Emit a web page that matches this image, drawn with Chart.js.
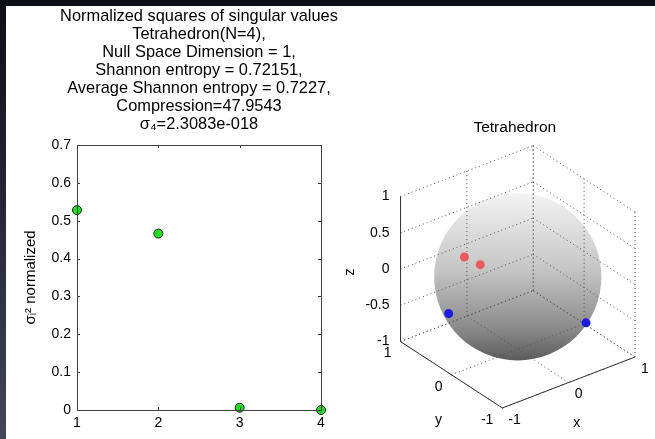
<!DOCTYPE html>
<html>
<head>
<meta charset="utf-8">
<script src="https://cdn.jsdelivr.net/npm/chart.js@4"></script>
<style>
  html, body { margin: 0; padding: 0; }
  body {
    width: 655px; height: 439px; overflow: hidden; position: relative;
    background: linear-gradient(to bottom, #0e0e18 0%, #2a2a3c 55%, #45455c 100%);
  }
  #panel { position: absolute; left: 6px; top: 6px; width: 649px; height: 433px; background: #fff; }
  #c1 { position: absolute; left: 0; top: 0; }
  #c2 { position: absolute; left: 324px; top: 94px; }
</style>
</head>
<body>
<div id="panel">
  <canvas id="c1" width="386" height="433"></canvas>
  <canvas id="c2" width="325" height="339"></canvas>
</div>
<script>
// linkes Diagramm: normierte Quadrate der Singulärwerte
var idx = [1, 2, 3, 4];
var sigma2 = [0.528, 0.466, 0.006, 0];
var yTicks = [0, 0.1, 0.2, 0.3, 0.4, 0.5, 0.6, 0.7];
var titleLines = [
  "Normalized squares of singular values",
  "Tetrahedron(N=4),",
  "Null Space Dimension = 1,",
  "Shannon entropy = 0.72151,",
  "Average Shannon entropy = 0.7227,",
  "Compression=47.9543",
  "σ₄=2.3083e-018"
];

// rechtes Diagramm: Punkte auf der Einheitskugel (x, y, z)
var redPts = [[-0.82, -0.02, 0.57], [-0.78, -0.28, 0.57]];
var bluePts = [[-0.98, 0.08, -0.20], [0.40, -0.82, -0.40]];
var xTicks3 = [-1, 0, 1];
var yTicks3 = [-1, 0, 1];
var zTicks3 = [-1, -0.5, 0, 0.5, 1];
var az = -37.5, el = 30;

var FONT = "'Liberation Sans', Arial, sans-serif";

var boxPlugin = {
  id: "box",
  afterDraw: function(chart) {
    var a = chart.chartArea, ctx = chart.ctx;
    ctx.save();
    ctx.strokeStyle = "#404040";
    ctx.lineWidth = 1;
    ctx.strokeRect(Math.round(a.left) + 0.5, Math.round(a.top) + 0.5, Math.round(a.right - a.left), Math.round(a.bottom - a.top));
    // kleine Ticks nach innen
    ctx.beginPath();
    yTicks.forEach(function(v) {
      var py = Math.round(chart.scales.y.getPixelForValue(v)) + 0.5;
      ctx.moveTo(a.left, py); ctx.lineTo(a.left + 3, py);
      ctx.moveTo(a.right, py); ctx.lineTo(a.right - 3, py);
    });
    idx.forEach(function(v) {
      var px = Math.round(chart.scales.x.getPixelForValue(v)) + 0.5;
      ctx.moveTo(px, a.bottom); ctx.lineTo(px, a.bottom - 3);
      ctx.moveTo(px, a.top); ctx.lineTo(px, a.top + 3);
    });
    ctx.stroke();
    ctx.restore();
  }
};

var chart1 = new Chart("c1", {
  type: "scatter",
  data: {
    datasets: [{
      data: idx.map(function(v, i) { return {x: v, y: sigma2[i]}; }),
      backgroundColor: "#1ee01e",
      borderColor: "#1a1a1a",
      borderWidth: 1,
      pointRadius: 4.5,
      clip: false
    }]
  },
  options: {
    responsive: false,
    animation: false,
    layout: { padding: 0 },
    plugins: {
      legend: { display: false },
      tooltip: { enabled: false },
      title: {
        display: true,
        text: titleLines,
        color: "#000",
        font: { family: FONT, size: 16.4, weight: "normal", lineHeight: 1.1 },
        padding: { top: 1, bottom: 11.7 }
      }
    },
    scales: {
      x: {
        type: "linear", min: 1, max: 4,
        afterFit: function(s) { s.height = 29; },
        afterBuildTicks: function(s) { s.ticks = idx.map(function(v) { return {value: v}; }); },
        grid: { display: false, drawTicks: false },
        border: { display: false },
        ticks: { color: "#000", padding: 5, font: { family: FONT, size: 14 } }
      },
      y: {
        min: 0, max: 0.7,
        afterFit: function(s) { s.width = 71; },
        afterBuildTicks: function(s) { s.ticks = yTicks.map(function(v) { return {value: v}; }); },
        grid: { display: false, drawTicks: false },
        border: { display: false },
        ticks: { color: "#000", padding: 6, font: { family: FONT, size: 14 } },
        title: {
          display: true,
          text: "σᵢ² normalized",
          color: "#000",
          font: { family: FONT, size: 15 },
          padding: { top: 16 }
        }
      },
      // leere rechte Achse, damit der Titel über der Fläche zentriert ist
      y2: {
        position: "right", min: 0, max: 0.7,
        afterFit: function(s) { s.width = 71; },
        grid: { display: false, drawTicks: false },
        border: { display: false },
        ticks: { display: false }
      }
    }
  },
  plugins: [boxPlugin]
});

// 3D Projektion wie MATLAB view(az, el)
var ca = Math.cos(az * Math.PI / 180), sa = Math.sin(az * Math.PI / 180);
var ce = Math.cos(el * Math.PI / 180), se = Math.sin(el * Math.PI / 180);
function proj(p) {
  return { x: ca * p[0] + sa * p[1], y: -se * sa * p[0] + se * ca * p[1] + ce * p[2] };
}

var scenePlugin = {
  id: "scene",
  beforeDatasetsDraw: function(chart) {
    var ctx = chart.ctx, sx = chart.scales.x, sy = chart.scales.y;
    function px(p) { var q = proj(p); return [sx.getPixelForValue(q.x), sy.getPixelForValue(q.y)]; }
    function line(a, b) { var A = px(a), B = px(b); ctx.moveTo(A[0], A[1]); ctx.lineTo(B[0], B[1]); }

    ctx.save();
    // Kugel
    var c = px([0, 0, 0]);
    var r = sx.getPixelForValue(1) - sx.getPixelForValue(0);
    var g = ctx.createLinearGradient(0, c[1] - r, 0, c[1] + r);
    g.addColorStop(0, "#f4f4f4");
    g.addColorStop(0.45, "#c6c6c6");
    g.addColorStop(0.8, "#8c8c8c");
    g.addColorStop(1, "#5c5c5c");
    ctx.fillStyle = g;
    ctx.beginPath();
    ctx.arc(c[0], c[1], r, 0, Math.PI * 2);
    ctx.fill();

    // Gitter (gepunktet)
    ctx.strokeStyle = "#555";
    ctx.lineWidth = 1;
    ctx.setLineDash([1, 3]);
    ctx.beginPath();
    xTicks3.forEach(function(v) {
      line([v, -1, -1], [v, 1, -1]);
      line([v, 1, -1], [v, 1, 1]);
    });
    yTicks3.forEach(function(v) {
      line([-1, v, -1], [1, v, -1]);
      line([1, v, -1], [1, v, 1]);
    });
    zTicks3.forEach(function(v) {
      line([-1, 1, v], [1, 1, v]);
      line([1, 1, v], [1, -1, v]);
    });
    ctx.stroke();

    // Achsen
    ctx.setLineDash([]);
    ctx.strokeStyle = "#333";
    ctx.beginPath();
    line([-1, 1, -1], [-1, 1, 1]);
    line([-1, 1, -1], [-1, -1, -1]);
    line([-1, -1, -1], [1, -1, -1]);
    ctx.stroke();

    // Beschriftung
    ctx.fillStyle = "#000";
    ctx.font = "14px " + FONT;
    ctx.textBaseline = "middle";
    ctx.textAlign = "right";
    zTicks3.forEach(function(v) {
      var p = px([-1, 1, v]);
      ctx.fillText(String(v), p[0] - 11, p[1]);
    });
    yTicks3.forEach(function(v) {
      var p = px([-1, v, -1]);
      ctx.fillText(String(v), p[0] - 9, p[1] + 12);
    });
    ctx.textAlign = "left";
    xTicks3.forEach(function(v) {
      var p = px([v, -1, -1]);
      ctx.fillText(String(v), p[0] + 6, p[1] + 12);
    });
    ctx.textAlign = "center";
    var lx = px([0, -1, -1]);
    ctx.fillText("x", lx[0] + 8, lx[1] + 41);
    var ly = px([-1, 0, -1]);
    ctx.fillText("y", ly[0] - 13, ly[1] + 45);
    var lz = px([-1, 1, 0]);
    ctx.save();
    ctx.translate(lz[0] - 50, lz[1] + 3);
    ctx.rotate(-Math.PI / 2);
    ctx.fillText("z", 0, 0);
    ctx.restore();
    ctx.font = "15.5px " + FONT;
    ctx.fillText("Tetrahedron", c[0] - 3, 28);
    ctx.restore();
  }
};

var cx0 = 188.5, cy0 = 177, unit = 86;
var chart2 = new Chart("c2", {
  type: "scatter",
  data: {
    datasets: [{
      data: redPts.map(proj),
      backgroundColor: "#ec5a5a",
      borderWidth: 0,
      pointRadius: 4.5,
      clip: false
    }, {
      data: bluePts.map(proj),
      backgroundColor: "#1c1ce0",
      borderWidth: 0,
      pointRadius: 4.5,
      clip: false
    }]
  },
  options: {
    responsive: false,
    animation: false,
    layout: { padding: 0 },
    plugins: { legend: { display: false }, tooltip: { enabled: false } },
    scales: {
      x: { type: "linear", display: false, min: -cx0 / unit, max: (325 - cx0) / unit },
      y: { display: false, min: -(339 - cy0) / unit, max: cy0 / unit }
    }
  },
  plugins: [scenePlugin]
});
</script>
</body>
</html>
